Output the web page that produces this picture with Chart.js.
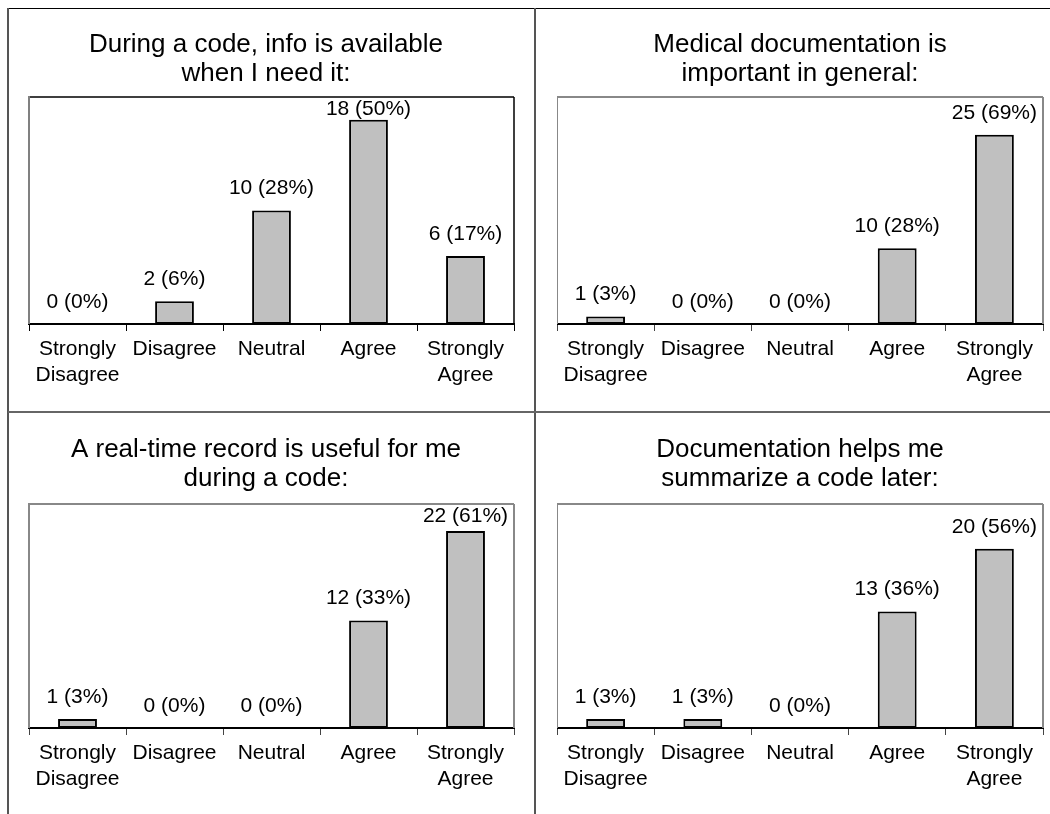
<!DOCTYPE html>
<html>
<head>
<meta charset="utf-8">
<script src="https://cdn.jsdelivr.net/npm/chart.js@4.4.1/dist/chart.umd.min.js"></script>
<style>
  html, body { margin: 0; padding: 0; background: #fff; }
  body { width: 1050px; height: 814px; position: relative; overflow: hidden; }
  .ln { position: absolute; }
  canvas { position: absolute; }
</style>
</head>
<body>
<div class="ln" style="left:8px;top:8px;width:1042px;height:1px;background:#000;"></div>
<div class="ln" style="left:7px;top:8px;width:2px;height:806px;background:#555;"></div>
<div class="ln" style="left:534px;top:8px;width:2px;height:806px;background:#555;"></div>
<div class="ln" style="left:8px;top:411px;width:1042px;height:2px;background:#666;"></div>
<canvas id="c1"></canvas>
<canvas id="c2"></canvas>
<canvas id="c3"></canvas>
<canvas id="c4"></canvas>
<script>
// ---------- data ----------
const categories = [['Strongly', 'Disagree'], 'Disagree', 'Neutral', 'Agree', ['Strongly', 'Agree']];

const title1 = ['During a code, info is available', 'when I need it:'];
const counts1 = [0, 2, 10, 18, 6];
const pcts1 = [0, 6, 28, 50, 17];
const max1 = 20;

const title2 = ['Medical documentation is', 'important in general:'];
const counts2 = [1, 0, 0, 10, 25];
const pcts2 = [3, 0, 0, 28, 69];
const max2 = 30;

const title3 = ['A real-time record is useful for me', 'during a code:'];
const counts3 = [1, 0, 0, 12, 22];
const pcts3 = [3, 0, 0, 33, 61];
const max3 = 25;

const title4 = ['Documentation helps me', 'summarize a code later:'];
const counts4 = [1, 1, 0, 13, 20];
const pcts4 = [3, 3, 0, 36, 56];
const max4 = 25;

// ---------- drawing ----------
const FONT = '"Liberation Sans", Arial, sans-serif';
const TITLE_SIZE = 26;
const TITLE_LH = 29;
const LABEL_SIZE = 21;

const labelPlugin = {
  id: 'barLabels',
  afterDatasetsDraw(chart) {
    const ctx = chart.ctx;
    const meta = chart.getDatasetMeta(0);
    const pcts = chart.options.plugins.barLabels.pcts;
    const counts = chart.data.datasets[0].data;
    ctx.save();
    ctx.font = LABEL_SIZE + 'px ' + FONT;
    ctx.fillStyle = '#000';
    ctx.textAlign = 'center';
    ctx.textBaseline = 'middle';
    meta.data.forEach((bar, i) => {
      const y = Math.max(bar.y - 22, chart.chartArea.top + 12);
      ctx.fillText(counts[i] + ' (' + pcts[i] + '%)', bar.x, y);
    });
    ctx.restore();
  }
};

const framePlugin = {
  id: 'frame',
  beforeDatasetsDraw(chart) {
    const o = chart.options.plugins.frame;
    const a = chart.chartArea;
    const ctx = chart.ctx;
    ctx.save();
    ctx.lineWidth = o.tw;
    ctx.strokeStyle = o.top;
    ctx.beginPath();
    ctx.moveTo(a.left, a.top); ctx.lineTo(a.right, a.top);
    ctx.moveTo(a.right, a.top); ctx.lineTo(a.right, a.bottom);
    ctx.stroke();
    ctx.lineWidth = 2;
    ctx.strokeStyle = o.left;
    ctx.beginPath();
    ctx.moveTo(a.left, a.top - 1); ctx.lineTo(a.left, a.bottom);
    ctx.stroke();
    ctx.restore();
  }
};

function makeChart(id, cfg) {
  const x0 = 2 * cfg.titleCenter - cfg.chartRight;
  const x1 = cfg.chartRight + 4;
  const yAxisW = Math.max(0, cfg.chartLeft - x0);
  const canvas = document.getElementById(id);
  canvas.style.left = x0 + 'px';
  canvas.style.top = cfg.top + 'px';
  canvas.width = x1 - x0;
  canvas.height = cfg.height;
  canvas.style.width = (x1 - x0) + 'px';
  canvas.style.height = cfg.height + 'px';
  const padTop = cfg.titleMid - cfg.top - TITLE_LH / 2;
  const padBottom = (cfg.chartTop - cfg.top) - padTop - TITLE_LH * 2;
  const xAxisH = cfg.top + cfg.height - cfg.chartBottom;

  return new Chart(canvas, {
    type: 'bar',
    data: {
      labels: categories,
      datasets: [{
        data: cfg.counts,
        backgroundColor: '#c0c0c0',
        borderColor: '#000',
        borderWidth: 2,
        borderSkipped: false,
        categoryPercentage: 1,
        barPercentage: 0.4
      }]
    },
    options: {
      responsive: false,
      animation: false,
      devicePixelRatio: 1,
      layout: { padding: { left: 0, right: 4, top: 0, bottom: 0 } },
      scales: {
        x: {
          offset: true,
          grid: { offset: true, drawOnChartArea: false, tickLength: 7, color: cfg.tickColor, lineWidth: 1 },
          border: { display: true, color: '#000', width: 2 },
          ticks: { color: '#000', font: { family: FONT, size: LABEL_SIZE, lineHeight: 1.2 }, padding: 6, maxRotation: 0, autoSkip: false },
          afterFit(scale) { scale.height = xAxisH; }
        },
        y: {
          min: 0, max: cfg.max,
          display: true,
          grid: { display: false },
          border: { display: false },
          ticks: { display: false },
          afterFit(scale) { scale.width = yAxisW; }
        }
      },
      plugins: {
        legend: { display: false },
        tooltip: { enabled: false },
        title: {
          display: true,
          text: cfg.title,
          color: '#000',
          font: { family: FONT, size: TITLE_SIZE, weight: 'normal', lineHeight: TITLE_LH / TITLE_SIZE },
          padding: { top: padTop, bottom: padBottom }
        },
        barLabels: { pcts: cfg.pcts },
        frame: cfg.frame
      }
    },
    plugins: [framePlugin, labelPlugin]
  });
}

makeChart('c1', { counts: counts1, pcts: pcts1, max: max1, title: title1,
  chartLeft: 29, chartRight: 514, titleCenter: 266, top: 9, height: 402,
  titleMid: 45, chartTop: 97, chartBottom: 324, tickColor: '#000',
  frame: { top: '#000', left: '#808080', tw: 1.5 } });
makeChart('c2', { counts: counts2, pcts: pcts2, max: max2, title: title2,
  chartLeft: 557, chartRight: 1043, titleCenter: 800, top: 9, height: 402,
  titleMid: 45, chartTop: 97, chartBottom: 324, tickColor: '#444',
  frame: { top: '#888', left: '#888', tw: 2 } });
makeChart('c3', { counts: counts3, pcts: pcts3, max: max3, title: title3,
  chartLeft: 29, chartRight: 514, titleCenter: 266, top: 413, height: 401,
  titleMid: 450, chartTop: 504, chartBottom: 728, tickColor: '#444',
  frame: { top: '#888', left: '#888', tw: 2 } });
makeChart('c4', { counts: counts4, pcts: pcts4, max: max4, title: title4,
  chartLeft: 557, chartRight: 1043, titleCenter: 800, top: 413, height: 401,
  titleMid: 450, chartTop: 504, chartBottom: 728, tickColor: '#444',
  frame: { top: '#888', left: '#888', tw: 2 } });
</script>
</body>
</html>
